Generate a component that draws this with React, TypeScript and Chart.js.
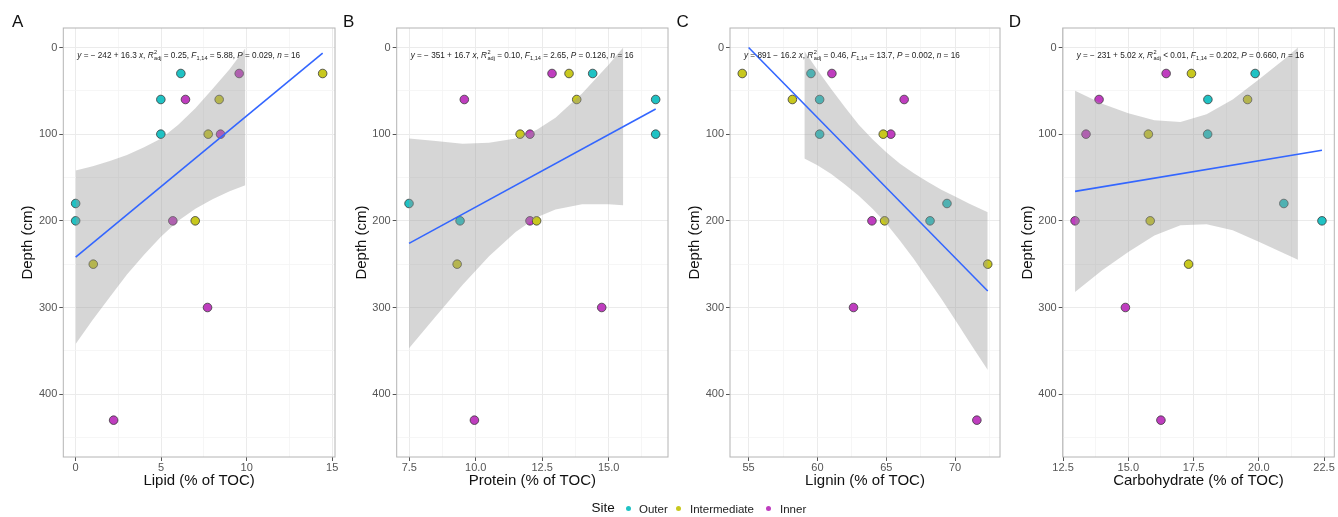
import React, { useEffect, useRef } from 'react';
import { Chart, registerables } from 'chart.js';

Chart.register(...registerables);

const FONT = "'Liberation Sans', Arial, Helvetica, sans-serif";

// ---------- data ----------
const sites = ['Outer', 'Intermediate', 'Inner'];
const siteColors = ['#1fc2c4', '#c8c81e', '#bf3dbf'];

const outerDepth = [30, 60, 100, 180, 200];
const intermediateDepth = [30, 60, 100, 200, 250];
const innerDepth = [30, 60, 100, 200, 300, 430];

// Lipid (% of TOC)
const lipidOuter = [6.15, 4.98, 4.98, 0.0, 0.0];
const lipidIntermediate = [14.44, 8.39, 7.75, 6.99, 1.03];
const lipidInner = [9.56, 6.42, 8.47, 5.68, 7.71, 2.22];
const lipidFitX = [0, 14.44];
const lipidFitY = [242, 6.6];
const lipidBandX = [0, 1, 2, 3, 4, 5, 6, 7, 8, 9, 9.92];
const lipidBandUpper = [142, 137, 131, 124, 115, 105, 89, 70, 48, 25, 1];
const lipidBandLower = [342, 314, 288, 262, 239, 218, 200, 186, 175, 166, 159];

// Protein (% of TOC)
const proteinOuter = [14.4, 16.77, 16.77, 7.49, 9.41];
const proteinIntermediate = [13.51, 13.8, 11.67, 12.29, 9.3];
const proteinInner = [12.87, 9.57, 12.04, 12.04, 14.74, 9.95];
const proteinFitX = [7.49, 16.77];
const proteinFitY = [226, 71];
const proteinBandX = [7.49, 8.5, 9.5, 10.5, 11.5, 12.3, 13, 14, 15, 15.55];
const proteinBandUpper = [105, 108, 111, 110, 105, 95, 81, 53, 20, 0];
const proteinBandLower = [347, 310, 274, 241, 213, 196, 187, 181, 181, 182];

// Lignin (% of TOC)
const ligninOuter = [59.53, 60.16, 60.16, 69.41, 68.18];
const ligninIntermediate = [54.54, 58.18, 64.78, 64.88, 72.37];
const ligninInner = [61.05, 66.3, 65.33, 63.96, 62.62, 71.58];
const ligninFitX = [55.0, 72.37];
const ligninFitY = [0, 281];
const ligninBandX = [59.05, 60, 61, 62, 63, 64, 65, 66, 67, 68, 69, 70, 71, 72.37];
const ligninBandUpper = [4, 26, 48, 69, 89, 106, 121, 134, 145, 155, 164, 172, 180, 190];
const ligninBandLower = [128, 136, 146, 158, 171, 186, 203, 223, 244, 267, 290, 314, 339, 372];

// Carbohydrate (% of TOC)
const carbOuter = [19.86, 18.05, 18.04, 20.96, 22.42];
const carbIntermediate = [17.42, 19.57, 15.77, 15.84, 17.31];
const carbInner = [16.45, 13.88, 13.38, 12.96, 14.89, 16.25];
const carbFitX = [12.96, 22.42];
const carbFitY = [166, 118.5];
const carbBandX = [12.96, 14, 15, 16, 17, 18, 19, 20, 21, 21.5];
const carbBandUpper = [50, 65, 76, 84, 86, 77, 60, 37, 13, 0];
const carbBandLower = [282, 257, 236, 217, 205, 204, 211, 224, 238, 245];

// axes
const yLimits = [0, 450];
const yMajor = [0, 100, 200, 300, 400];
const yMinor = [50, 150, 250, 350, 450];
const yTitle = 'Depth (cm)';

const panelLetters = ['A', 'B', 'C', 'D'];
const xTitles = ['Lipid (% of TOC)', 'Protein (% of TOC)', 'Lignin (% of TOC)', 'Carbohydrate (% of TOC)'];
const xMajorA = [0, 5, 10, 15];
const xMinorA = [2.5, 7.5, 12.5];
const xLabelsA = ['0', '5', '10', '15'];
const xMajorB = [7.5, 10, 12.5, 15];
const xMinorB = [8.75, 11.25, 13.75, 16.25];
const xLabelsB = ['7.5', '10.0', '12.5', '15.0'];
const xMajorC = [55, 60, 65, 70];
const xMinorC = [57.5, 62.5, 67.5, 72.5];
const xLabelsC = ['55', '60', '65', '70'];
const xMajorD = [12.5, 15, 17.5, 20, 22.5];
const xMinorD = [13.75, 16.25, 18.75, 21.25];
const xLabelsD = ['12.5', '15.0', '17.5', '20.0', '22.5'];

// equation labels
const eqCoefs = ['\u2212 242 + 16.3 ', '\u2212 351 + 16.7 ', '891 \u2212 16.2 ', '\u2212 231 + 5.02 '];
const r2Texts = [' = 0.25, ', ' = 0.10, ', ' = 0.46, ', ' < 0.01, '];
const fTexts = [' = 5.88, ', ' = 2.65, ', ' = 13.7, ', ' = 0.202, '];
const pTexts = [' = 0.029, ', ' = 0.126, ', ' = 0.002, ', ' = 0.660, '];
const nText = ' = 16';

// ---------- layout ----------
const canvasLefts = [0, 336, 670, 1002];
const canvasWidths = [342, 334, 332, 336];
const padLefts = [8.3, 5.7, 5, 5.7];
const padRights = [7, 2, 2, 3.7];
const letterLefts = [12, 343, 676.5, 1008.8];

type Seg = [string, string];

function annotation(i: number): Seg[] {
  return [
    ['y', 'i'], [' = ' + eqCoefs[i], 'n'], ['x', 'i'], [', ', 'n'],
    ['R', 'i'], ['2', 'sup'], ['adj', 'sub'], [r2Texts[i], 'n'],
    ['F', 'i'], ['1,14', 'sub'], [fTexts[i], 'n'],
    ['P', 'i'], [pTexts[i], 'n'], ['n', 'i'], [nText, 'n'],
  ];
}

const panelDecor = {
  id: 'panelDecor',
  afterDraw(chart: any, _args: any, opts: any) {
    const { ctx, chartArea: a } = chart;
    ctx.save();
    ctx.strokeStyle = '#b4b4b4';
    ctx.lineWidth = 1;
    ctx.strokeRect(a.left, a.top, a.right - a.left, a.bottom - a.top);
    const segs: Seg[] = opts.segments || [];
    let x = a.left + 14;
    const y = 56;
    ctx.fillStyle = '#222';
    ctx.textBaseline = 'middle';
    ctx.textAlign = 'left';
    const main = 8.2;
    const small = 5.6;
    for (let k = 0; k < segs.length; k++) {
      const [t, s] = segs[k];
      if (s === 'sup') {
        ctx.font = `${small}px ${FONT}`;
        const w1 = ctx.measureText(t).width;
        ctx.fillText(t, x + 0.5, y - 3.2);
        let w = w1;
        if (k + 1 < segs.length && segs[k + 1][1] === 'sub') {
          const t2 = segs[k + 1][0];
          const w2 = ctx.measureText(t2).width;
          ctx.fillText(t2, x + 0.5, y + 2.6);
          w = Math.max(w1, w2);
          k++;
        }
        x += w + 0.5;
      } else if (s === 'sub') {
        ctx.font = `${small}px ${FONT}`;
        ctx.fillText(t, x + 0.3, y + 2.6);
        x += ctx.measureText(t).width + 0.3;
      } else {
        ctx.font = `${s === 'i' ? 'italic ' : ''}${main}px ${FONT}`;
        ctx.fillText(t, x, y);
        x += ctx.measureText(t).width;
      }
    }
    ctx.restore();
  },
};

function pts(xs: number[], ys: number[]) {
  return xs.map((v, i) => ({ x: v, y: ys[i] }));
}

interface PanelDef {
  outer: number[];
  intermediate: number[];
  inner: number[];
  fitX: number[];
  fitY: number[];
  bandX: number[];
  bandUpper: number[];
  bandLower: number[];
  major: number[];
  minor: number[];
  labels: string[];
}

const panels: PanelDef[] = [
  { outer: lipidOuter, intermediate: lipidIntermediate, inner: lipidInner, fitX: lipidFitX, fitY: lipidFitY, bandX: lipidBandX, bandUpper: lipidBandUpper, bandLower: lipidBandLower, major: xMajorA, minor: xMinorA, labels: xLabelsA },
  { outer: proteinOuter, intermediate: proteinIntermediate, inner: proteinInner, fitX: proteinFitX, fitY: proteinFitY, bandX: proteinBandX, bandUpper: proteinBandUpper, bandLower: proteinBandLower, major: xMajorB, minor: xMinorB, labels: xLabelsB },
  { outer: ligninOuter, intermediate: ligninIntermediate, inner: ligninInner, fitX: ligninFitX, fitY: ligninFitY, bandX: ligninBandX, bandUpper: ligninBandUpper, bandLower: ligninBandLower, major: xMajorC, minor: xMinorC, labels: xLabelsC },
  { outer: carbOuter, intermediate: carbIntermediate, inner: carbInner, fitX: carbFitX, fitY: carbFitY, bandX: carbBandX, bandUpper: carbBandUpper, bandLower: carbBandLower, major: xMajorD, minor: xMinorD, labels: xLabelsD },
];

function Panel({ idx }: { idx: number }) {
  const ref = useRef<HTMLCanvasElement | null>(null);
  useEffect(() => {
    const p = panels[idx];
    const allX = [...p.outer, ...p.intermediate, ...p.inner];
    const lo = Math.min(...allX);
    const hi = Math.max(...allX);
    const ex = (hi - lo) * 0.05;
    const ey = (yLimits[1] - yLimits[0]) * 0.05;
    const xTicks = [...p.major, ...p.minor].sort((a, b) => a - b);
    const yTicks = [...yMajor, ...yMinor].sort((a, b) => a - b);
    const isMajX = (v: number) => p.major.some((m) => Math.abs(m - v) < 1e-6);
    const isMajY = (v: number) => yMajor.some((m) => Math.abs(m - v) < 1e-6);

    const depthSets = [outerDepth, intermediateDepth, innerDepth];
    const xSets = [p.outer, p.intermediate, p.inner];

    const datasets: any[] = [
      {
        type: 'line',
        data: pts(p.fitX, p.fitY),
        borderColor: '#3366ff',
        borderWidth: 1.6,
        pointRadius: 0,
        fill: false,
        order: 0,
      },
      {
        type: 'line',
        data: pts(p.bandX, p.bandUpper),
        borderColor: 'rgba(0,0,0,0)',
        borderWidth: 0,
        pointRadius: 0,
        backgroundColor: 'rgba(153,153,153,0.4)',
        fill: '+1',
        order: 1,
      },
      {
        type: 'line',
        data: pts(p.bandX, p.bandLower),
        borderColor: 'rgba(0,0,0,0)',
        borderWidth: 0,
        pointRadius: 0,
        fill: false,
        order: 1,
      },
      ...sites.map((s, k) => ({
        type: 'scatter',
        label: s,
        data: pts(xSets[k], depthSets[k]),
        backgroundColor: siteColors[k],
        borderColor: '#3a3a3a',
        borderWidth: 0.8,
        pointRadius: 4.3,
        order: 2,
      })),
    ];

    const chart = new Chart(ref.current as HTMLCanvasElement, {
      type: 'scatter',
      data: { datasets },
      plugins: [panelDecor],
      options: {
        animation: false,
        responsive: false,
        events: [],
        layout: { autoPadding: false, padding: { left: padLefts[idx], right: padRights[idx], top: 28, bottom: 27 } },
        plugins: {
          legend: { display: false },
          tooltip: { enabled: false },
          panelDecor: { segments: annotation(idx) },
        } as any,
        scales: {
          x: {
            type: 'linear',
            min: lo - ex,
            max: hi + ex,
            afterBuildTicks: (s: any) => {
              s.ticks = xTicks.map((v) => ({ value: v }));
            },
            afterFit: (s: any) => {
              s.height = 33;
              s.paddingLeft = 0;
              s.paddingRight = 0;
            },
            ticks: {
              autoSkip: false,
              maxRotation: 0,
              padding: 0,
              color: '#555',
              font: { size: 11, family: FONT },
              callback: (v: any) => {
                const i = p.major.findIndex((m) => Math.abs(m - v) < 1e-6);
                return i >= 0 ? p.labels[i] : '';
              },
            },
            grid: {
              color: (c: any) => (c.tick && isMajX(c.tick.value) ? '#ebebeb' : '#f4f4f4'),
              lineWidth: (c: any) => (c.tick && isMajX(c.tick.value) ? 1 : 0.8),
              tickLength: 4,
              tickWidth: 1,
              tickColor: (c: any) => (c.tick && isMajX(c.tick.value) ? '#555' : 'rgba(0,0,0,0)'),
            },
            border: { display: false },
            title: {
              display: true,
              text: xTitles[idx],
              color: '#111',
              font: { size: 15, family: FONT },
              padding: { top: 0, bottom: 0.5 },
            },
          },
          y: {
            type: 'linear',
            reverse: true,
            min: yLimits[0] - ey,
            max: yLimits[1] + ey,
            afterBuildTicks: (s: any) => {
              s.ticks = yTicks.map((v) => ({ value: v }));
            },
            afterFit: (s: any) => {
              s.width = 55;
              s.paddingTop = 0;
              s.paddingBottom = 0;
            },
            ticks: {
              autoSkip: false,
              padding: 2,
              color: '#555',
              font: { size: 11, family: FONT },
              callback: (v: any) => (isMajY(v) ? String(v) : ''),
            },
            grid: {
              color: (c: any) => (c.tick && isMajY(c.tick.value) ? '#ebebeb' : '#f4f4f4'),
              lineWidth: (c: any) => (c.tick && isMajY(c.tick.value) ? 1 : 0.8),
              tickLength: 4,
              tickWidth: 1,
              tickColor: (c: any) => (c.tick && isMajY(c.tick.value) ? '#555' : 'rgba(0,0,0,0)'),
            },
            border: { display: false },
            title: {
              display: true,
              text: yTitle,
              color: '#111',
              font: { size: 15, family: FONT },
              padding: { top: 10.7, bottom: 0 },
            },
          },
        },
      } as any,
    });
    return () => chart.destroy();
  }, [idx]);

  return (
    <canvas
      ref={ref}
      width={canvasWidths[idx]}
      height={517}
      style={{ position: 'absolute', left: canvasLefts[idx], top: 0, width: canvasWidths[idx], height: 517 }}
    />
  );
}

const legendTitleLeft = 591.5;
const legendDotCenters = [628.3, 678.3, 768.5];
const legendTextLefts = [639, 690, 780];

export default function App() {
  return (
    <div style={{ position: 'fixed', left: 0, top: 0, width: 1338, height: 517, background: '#fff', overflow: 'hidden', fontFamily: FONT }}>
      {panels.map((_, i) => (
        <Panel key={i} idx={i} />
      ))}
      {panelLetters.map((l, i) => (
        <div key={l} style={{ position: 'absolute', left: letterLefts[i], top: 12.8, fontSize: 17, lineHeight: '17px', color: '#111' }}>
          {l}
        </div>
      ))}
      <div style={{ position: 'absolute', left: legendTitleLeft, top: 499, fontSize: 13.5, lineHeight: '18px', color: '#111' }}>Site</div>
      {sites.map((s, k) => (
        <React.Fragment key={s}>
          <div
            style={{
              position: 'absolute',
              left: legendDotCenters[k] - 2.7,
              top: 508.3 - 2.7,
              width: 5.4,
              height: 5.4,
              borderRadius: '50%',
              background: siteColors[k],
            }}
          />
          <div style={{ position: 'absolute', left: legendTextLefts[k], top: 500.5, fontSize: 11.5, lineHeight: '16px', color: '#222' }}>{s}</div>
        </React.Fragment>
      ))}
    </div>
  );
}
